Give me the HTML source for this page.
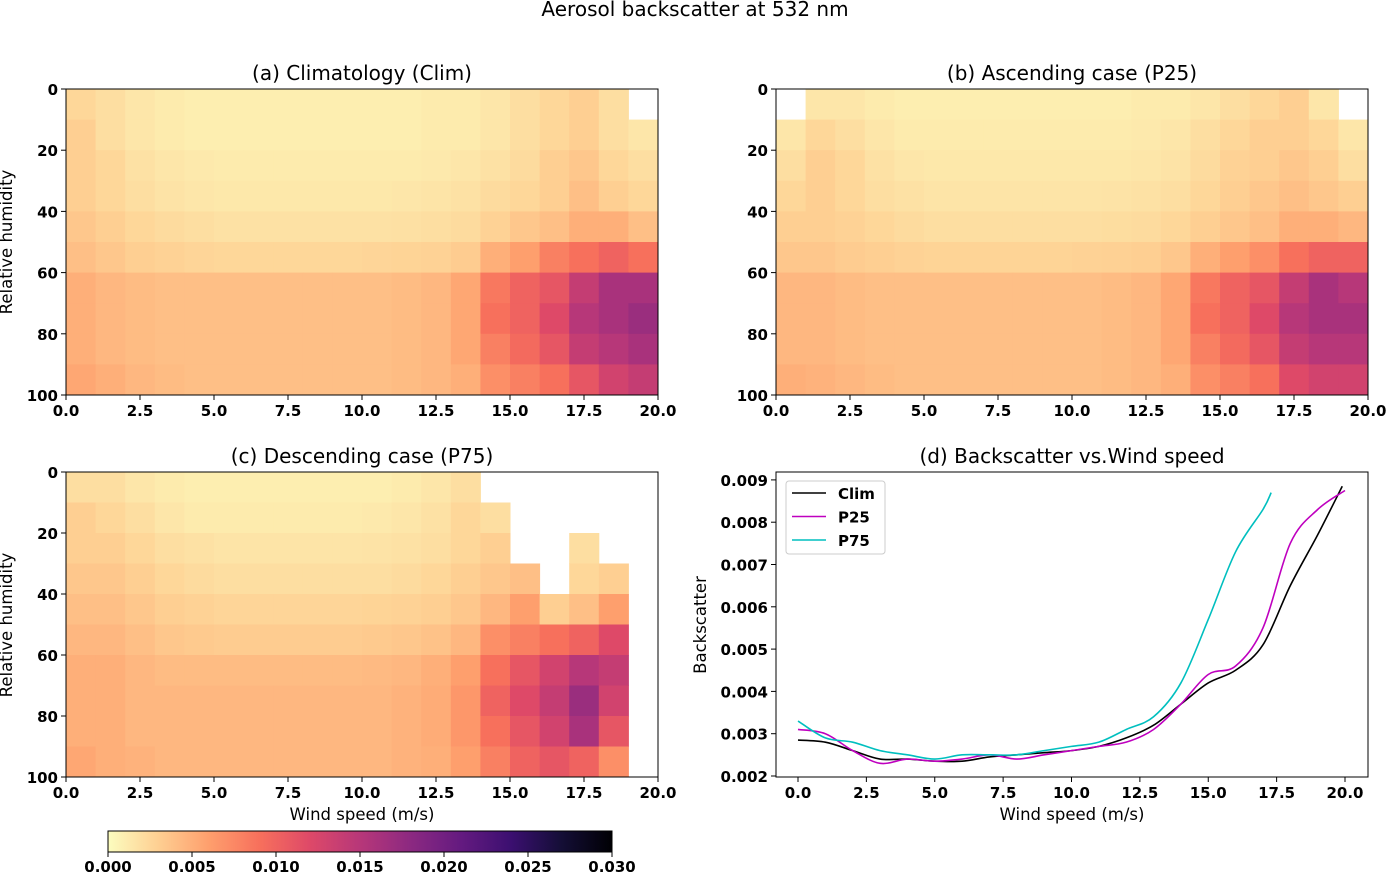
<!DOCTYPE html>
<html><head><meta charset="utf-8">
<style>
body{margin:0;background:#fff;}
svg{display:block;font-family:"DejaVu Sans","Liberation Sans",sans-serif;}
.tk{font-size:15px;font-weight:bold;fill:#000;}
.tt{font-size:20px;fill:#000;}
.al{font-size:16.5px;fill:#000;}
</style></head><body>
<svg id="fig" width="1388" height="872" viewBox="0 0 1388 872" xmlns="http://www.w3.org/2000/svg">
<text x="695" y="16" text-anchor="middle" class="tt">Aerosol backscatter at 532 nm</text>
</svg>
<script>
// heatmap data, units of 1e-3, rows RH 0-10 ... 90-100, cols wind 0-1 ... 19-20; null = no data
const climRows = [
[2.5,2,1.5,1.2,1,1,1,1,1,1,1,1,1.2,1.2,1.5,2,2.5,3,2,null],
[3,2,1.5,1.2,1,1,1,1,1,1,1,1,1.2,1.2,1.5,2,2.5,3,2,1.5],
[3,2.5,1.8,1.5,1.3,1.2,1.2,1.2,1.2,1.2,1.2,1.2,1.3,1.5,1.8,2.2,3,3.5,2.5,2],
[3,2.5,2,1.7,1.5,1.4,1.4,1.4,1.4,1.4,1.4,1.5,1.6,1.8,2.2,2.5,3,4,3,2.5],
[3.5,3,2.5,2.2,2,1.8,1.8,1.8,1.8,1.8,1.8,1.9,2,2.2,2.8,3.5,4,5,5,4],
[4,3.5,3,2.8,2.6,2.5,2.5,2.5,2.5,2.5,2.6,2.7,2.8,3.2,5,6,8,9,10,9],
[5,4.5,4.2,4,4,4,4,4,4,4,4,4.2,4.5,5.5,8.5,10,11,14,16,16],
[5,4.5,4.2,4,4,4,4,4,4,4,4,4.2,4.5,5.5,9,10,12,15,16,17],
[5,4.5,4.2,4,4,4,4,4,4,4,4,4.2,4.5,5.5,8,9.5,11,14,15,16],
[5.5,5,4.5,4.2,4,4,4,4,4,4,4,4.2,4.5,5,7,8,9,11,13,14]];
const p25Rows = [
[null,1.5,1.5,1.2,1,1,1,1,1,1,1,1,1.2,1.2,1.5,2,2.5,3,1.5,null],
[1.5,2.5,2,1.5,1.2,1.2,1.2,1.2,1.2,1.2,1.2,1.2,1.3,1.5,2,2.5,3,3,2.5,1.5],
[2,3,2.5,1.8,1.5,1.4,1.4,1.4,1.4,1.4,1.4,1.4,1.5,1.7,2.2,2.8,3,3.5,3,2],
[2.5,3,2.5,2,1.8,1.6,1.6,1.6,1.6,1.6,1.6,1.7,1.8,2,2.5,3,3.5,4,3.5,3],
[3,3,2.8,2.5,2.2,2,2,2,2,2,2,2.1,2.2,2.5,3,3.5,4,5,5,4.5],
[3.5,3.5,3.2,3,2.8,2.7,2.7,2.7,2.7,2.7,2.8,2.9,3,3.5,5,6,7,9,10,10],
[4.5,4.5,4.2,4,4,4,4,4,4,4,4,4.2,4.5,5.5,8.5,10,11,14,16,15],
[4.5,4.5,4.2,4,4,4,4,4,4,4,4,4.2,4.5,5.5,9,10,12,15,16,16],
[4.5,4.5,4.2,4,4,4,4,4,4,4,4,4.2,4.5,5.5,8,9.5,11,14,15,15],
[5,4.8,4.5,4.2,4,4,4,4,4,4,4,4.2,4.5,5,7,8,9,12,13,13]];
const p75Rows = [
[2,2,1.5,1.2,1,1,1,1,1,1,1,1.2,1.5,2,null,null,null,null,null,null],
[3,2.5,2,1.5,1.2,1.2,1.2,1.2,1.2,1.2,1.3,1.5,1.8,2.5,2,null,null,null,null,null],
[3,3,2.5,2,1.8,1.6,1.6,1.6,1.6,1.6,1.7,1.8,2,2.5,3,null,null,2,null,null],
[3.5,3.5,3,2.5,2.2,2,2,2,2,2,2,2.2,2.5,3,3.5,4,null,2.5,3,null],
[4,4,3.5,3,2.8,2.6,2.6,2.6,2.6,2.6,2.7,2.8,3,3.5,4.5,6,3,4,6,null],
[4.5,4.5,4,3.5,3.3,3.2,3.2,3.2,3.2,3.2,3.3,3.5,3.8,4.5,7,8,9,10,12,null],
[5,5,4.5,4.2,4.2,4.2,4.2,4.2,4.2,4.2,4.3,4.5,5,6,9,11,13,15,14,null],
[5,5,4.5,4.5,4.5,4.5,4.5,4.5,4.5,4.5,4.5,4.8,5.2,6.5,10,12,14,17,13,null],
[5,5,4.5,4.5,4.5,4.5,4.5,4.5,4.5,4.5,4.5,4.8,5.2,6.5,9,11,13,16,11,null],
[5.5,5,4.8,4.5,4.5,4.5,4.5,4.5,4.5,4.5,4.5,4.8,5,6,8,10,11,10,7,null]];
// line chart data
const windClim = [0,1,2,3,4,5,6,7,8,9,10,11,12,13,14,15,16,17,18,19,19.9];
const valClim = [0.00285,0.0028,0.0026,0.0024,0.0024,0.00235,0.00235,0.00245,0.0025,0.00255,0.0026,0.0027,0.0029,0.0032,0.0037,0.0042,0.0045,0.0051,0.0065,0.0077,0.00885];
const windP25 = [0,1,2,3,4,5,6,7,8,9,10,11,12,13,14,15,16,17,18,19,20];
const valP25 = [0.0031,0.003,0.0026,0.0023,0.0024,0.00235,0.0024,0.0025,0.0024,0.0025,0.0026,0.0027,0.0028,0.0031,0.0037,0.0044,0.0046,0.0055,0.0075,0.0083,0.00875];
const windP75 = [0,1,2,3,4,5,6,7,8,9,10,11,12,13,14,15,16,17,17.3];
const valP75 = [0.0033,0.0029,0.0028,0.0026,0.0025,0.0024,0.0025,0.0025,0.0025,0.0026,0.0027,0.0028,0.0031,0.0034,0.0042,0.0057,0.0073,0.0083,0.0087];
const xTicks = [0,2.5,5,7.5,10,12.5,15,17.5,20];
const rhTicks = [0,20,40,60,80,100];
const bsTicks = [0.002,0.003,0.004,0.005,0.006,0.007,0.008,0.009];
const cbTicks = [0,0.005,0.01,0.015,0.02,0.025,0.03];

const NS="http://www.w3.org/2000/svg";
const svg=document.getElementById('fig');
function mk(tag,attrs,parent){const e=document.createElementNS(NS,tag);for(const k in attrs)e.setAttribute(k,attrs[k]);(parent||svg).appendChild(e);return e;}
const magma=[[0,0,4],[20,14,54],[59,15,112],[100,26,128],[140,41,129],[183,55,121],[222,73,104],[247,112,92],[254,159,109],[254,207,146],[252,253,191]];
function cmap(v){let t=Math.max(0,Math.min(1,v/0.03));let m=(1-t)*10;let i=Math.min(9,Math.floor(m));let f=m-i;const a=magma[i],b=magma[i+1];return 'rgb('+a.map((c,j)=>Math.round(c+(b[j]-c)*f)).join(',')+')';}

function heat(x0,y0,w,h,rows,title,name){
  const g=mk('g',{});
  
  
  const sx=v=>x0+v/20*w, sy=v=>y0+v/100*h;
  rows.forEach((row,r)=>row.forEach((v,c)=>{
    if(v===null)return;
    const rc=mk('rect',{x:sx(c),y:sy(r*10),width:sx(c+1)-sx(c)+0.5,height:sy(r*10+10)-sy(r*10)+0.5,fill:cmap(v*0.001)},g);
    
    
  }));
  mk('rect',{x:x0,y:y0,width:w,height:h,fill:'none',stroke:'#000','stroke-width':1},g);
  xTicks.forEach(t=>{mk('line',{x1:sx(t),x2:sx(t),y1:y0+h,y2:y0+h+5,stroke:'#000'},g);
    const tx=mk('text',{x:sx(t),y:y0+h+21,'text-anchor':'middle',class:'tk'},g);tx.textContent=t.toFixed(1);
    });
  rhTicks.forEach(t=>{mk('line',{x1:x0-5,x2:x0,y1:sy(t),y2:sy(t),stroke:'#000'},g);
    const tx=mk('text',{x:x0-8,y:sy(t)+6,'text-anchor':'end',class:'tk'},g);tx.textContent=t;
    });
  const tt=mk('text',{x:x0+w/2,y:y0-9,'text-anchor':'middle',class:'tt'},g);tt.textContent=title;
  
}
heat(66,89,592,306,climRows,'(a) Climatology (Clim)','panel-a-climatology');
heat(776,89,592,306,p25Rows,'(b) Ascending case (P25)','panel-b-ascending');
heat(66,472,592,305,p75Rows,'(c) Descending case (P75)','panel-c-descending');
function ylab(x,y,s,n){const t=mk('text',{x:x,y:y,'text-anchor':'middle',class:'al',transform:'rotate(-90 '+x+' '+y+')'});t.textContent=s;}
ylab(12,242,'Relative humidity','y-axis-title-a');
ylab(12,625,'Relative humidity','y-axis-title-c');
let xl=mk('text',{x:362,y:820,'text-anchor':'middle',class:'al'});xl.textContent='Wind speed (m/s)';


// panel d
(function(){
  const x0=776,y0=472,w=592,h=305;
  const g=mk('g',{});
  
  
  const sx=v=>798+v*27.35, sy=v=>776-(v-0.002)/0.001*42.3;
  mk('rect',{x:x0,y:y0,width:w,height:h,fill:'#fff',stroke:'#000'},g);
  xTicks.forEach(t=>{mk('line',{x1:sx(t),x2:sx(t),y1:y0+h,y2:y0+h+5,stroke:'#000'},g);
    const tx=mk('text',{x:sx(t),y:y0+h+21,'text-anchor':'middle',class:'tk'},g);tx.textContent=t.toFixed(1);
    });
  bsTicks.forEach(t=>{mk('line',{x1:x0-5,x2:x0,y1:sy(t),y2:sy(t),stroke:'#000'},g);
    const tx=mk('text',{x:x0-8,y:sy(t)+6,'text-anchor':'end',class:'tk'},g);tx.textContent=t.toFixed(3);
    });
  function path(xs,ys){const p=xs.map((x,i)=>[sx(x),sy(ys[i])]);let d='M'+p[0][0]+','+p[0][1];
    for(let i=0;i<p.length-1;i++){const a=p[Math.max(0,i-1)],b=p[i],c=p[i+1],e=p[Math.min(p.length-1,i+2)];
      d+=' C'+(b[0]+(c[0]-a[0])/6)+','+(b[1]+(c[1]-a[1])/6)+' '+(c[0]-(e[0]-b[0])/6)+','+(c[1]-(e[1]-b[1])/6)+' '+c[0]+','+c[1];}return d;}
  const series=[[windClim,valClim,'#000','line-clim'],[windP25,valP25,'#bf00bf','line-p25'],[windP75,valP75,'#00bfbf','line-p75']];
  series.forEach(s=>{const l=mk('path',{d:path(s[0],s[1]),fill:'none',stroke:s[2],'stroke-width':1.6},g);
    });
  const lg=mk('g',{},g);
  mk('rect',{x:786,y:481,width:99,height:73,rx:3,fill:'#fff',stroke:'#ccc'},lg);
  [['Clim','#000'],['P25','#bf00bf'],['P75','#00bfbf']].forEach((e,i)=>{const y=493+i*23.5;
    mk('line',{x1:792,x2:826,y1:y,y2:y,stroke:e[1],'stroke-width':1.6},lg);
    const t=mk('text',{x:838,y:y+6,class:'tk'},lg);t.textContent=e[0];
    });
  const tt=mk('text',{x:x0+w/2,y:y0-9,'text-anchor':'middle',class:'tt'},g);tt.textContent='(d) Backscatter vs.Wind speed';
  
})();
ylab(706,625,'Backscatter','y-axis-title-d');
xl=mk('text',{x:1072,y:820,'text-anchor':'middle',class:'al'});xl.textContent='Wind speed (m/s)';


// colorbar
(function(){
  const x0=108,y0=831,w=504,h=21;
  const g=mk('g',{});
  
  
  const defs=mk('defs',{},g);const lgr=mk('linearGradient',{id:'cbg',x1:0,x2:1,y1:0,y2:0},defs);
  for(let i=0;i<=20;i++)mk('stop',{offset:i/20,'stop-color':cmap(0.03*i/20)},lgr);
  mk('rect',{x:x0,y:y0,width:w,height:h,fill:'url(#cbg)',stroke:'#000'},g);
  cbTicks.forEach(t=>{const x=x0+t/0.03*w;mk('line',{x1:x,x2:x,y1:y0+h,y2:y0+h+5,stroke:'#000'},g);
    const tx=mk('text',{x:x,y:y0+h+20,'text-anchor':'middle',class:'tk'},g);tx.textContent=t.toFixed(3);
    });
})();
</script>
</body></html>
